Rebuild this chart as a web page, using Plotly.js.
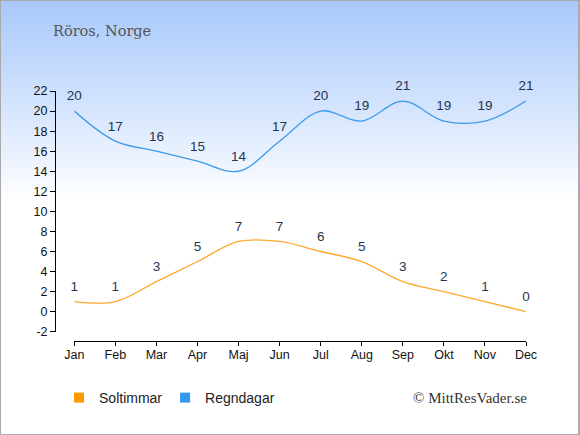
<!DOCTYPE html>
<html>
<head>
<meta charset="utf-8">
<script src="https://cdn.plot.ly/plotly-3.0.1.min.js"></script>
<style>
html,body{margin:0;padding:0;}
#wrap{position:relative;width:580px;height:435px;box-sizing:border-box;border:1px solid #aaaaaa;border-right-width:2px;
background:linear-gradient(to bottom,#a8c8fb 0px,#d6e5fd 110px,#ffffff 200px,#ffffff 435px);overflow:hidden;}
#chart{position:absolute;left:-1px;top:-1px;width:580px;height:435px;}
</style>
</head>
<body>
<div id="wrap"><div id="chart"></div></div>
<script>
var months = ["Jan","Feb","Mar","Apr","Maj","Jun","Jul","Aug","Sep","Okt","Nov","Dec"];
var soltimmar = [1,1,3,5,7,7,6,5,3,2,1,0];
var regndagar = [20,17,16,15,14,17,20,19,21,19,19,21];
var yTicks = [-2,0,2,4,6,8,10,12,14,16,18,20,22];
var yTickText = ["-2","0","2","4","6","8","10","12","14","16","18","20","22"];

var labelFont = {family:"Liberation Sans, Arial, sans-serif", size:13.5, color:"#253450"};
var xIdx = months.map(function(m,i){return i;});

var traces = [
  {x:xIdx, y:soltimmar, mode:"lines+markers+text", text:soltimmar.map(String), textposition:"top center",
   textfont:labelFont, line:{color:"#ffa82e", width:1.3, shape:"spline", smoothing:1},
   marker:{size:10, color:"rgba(0,0,0,0)"}, showlegend:false, hoverinfo:"skip", cliponaxis:false},
  {x:xIdx, y:regndagar, mode:"lines+markers+text", text:regndagar.map(String), textposition:"top center",
   textfont:labelFont, line:{color:"#3d9be9", width:1.3, shape:"spline", smoothing:1},
   marker:{size:10, color:"rgba(0,0,0,0)"}, showlegend:false, hoverinfo:"skip", cliponaxis:false},
  {x:[null], y:[null], mode:"markers", name:"Soltimmar", marker:{symbol:"square", size:10, color:"#ff9900"},
   showlegend:true, legend:"legend"},
  {x:[null], y:[null], mode:"markers", name:"Regndagar", marker:{symbol:"square", size:10, color:"#3399ee"},
   showlegend:true, legend:"legend2"}
];

var legendFont = {family:"Liberation Sans, Arial, sans-serif", size:14, color:"#222"};

var layout = {
  width:580, height:435,
  margin:{l:55, r:54, t:91, b:94, pad:0},
  paper_bgcolor:"rgba(0,0,0,0)", plot_bgcolor:"rgba(0,0,0,0)",
  font:{family:"Liberation Sans, Arial, sans-serif", size:12.5, color:"#111"},
  xaxis:{domain:[0.041,1], range:[0,11], tickmode:"array", tickvals:xIdx, ticktext:months,
    showline:true, linecolor:"#000", linewidth:1, ticks:"outside", ticklen:4, tickcolor:"#000",
    showgrid:false, zeroline:false, anchor:"free", position:0, fixedrange:true, ticklabelstandoff:-2,
    tickfont:{size:12.5, color:"#111"}},
  yaxis:{domain:[0.037,1], range:[-2,22], tickmode:"array", tickvals:yTicks, ticktext:yTickText,
    showline:true, linecolor:"#000", linewidth:1, ticks:"outside", ticklen:5, tickcolor:"#000",
    showgrid:false, zeroline:false, anchor:"free", position:0, fixedrange:true,
    tickfont:{size:12.5, color:"#111"}},
  showlegend:true,
  legend:{orientation:"h", x:0.0085, y:-0.228, xanchor:"left", yanchor:"middle",
    font:legendFont, bgcolor:"rgba(0,0,0,0)", itemwidth:30},
  legend2:{orientation:"h", x:0.2337, y:-0.228, xanchor:"left", yanchor:"middle",
    font:legendFont, bgcolor:"rgba(0,0,0,0)", itemwidth:30},
  annotations:[
    {text:"Röros, Norge", xref:"paper", yref:"paper", x:-0.008, y:1.24, xanchor:"left", yanchor:"middle",
     showarrow:false, font:{family:"DejaVu Serif, serif", size:14.5, color:"#555"}},
    {text:"© MittResVader.se", xref:"paper", yref:"paper", x:1.006, y:-0.228, xanchor:"right", yanchor:"middle",
     showarrow:false, font:{family:"Liberation Serif, Times New Roman, serif", size:15, color:"#333"}}
  ]
};

Plotly.newPlot("chart", traces, layout, {displayModeBar:false, staticPlot:true});
</script>
</body>
</html>
